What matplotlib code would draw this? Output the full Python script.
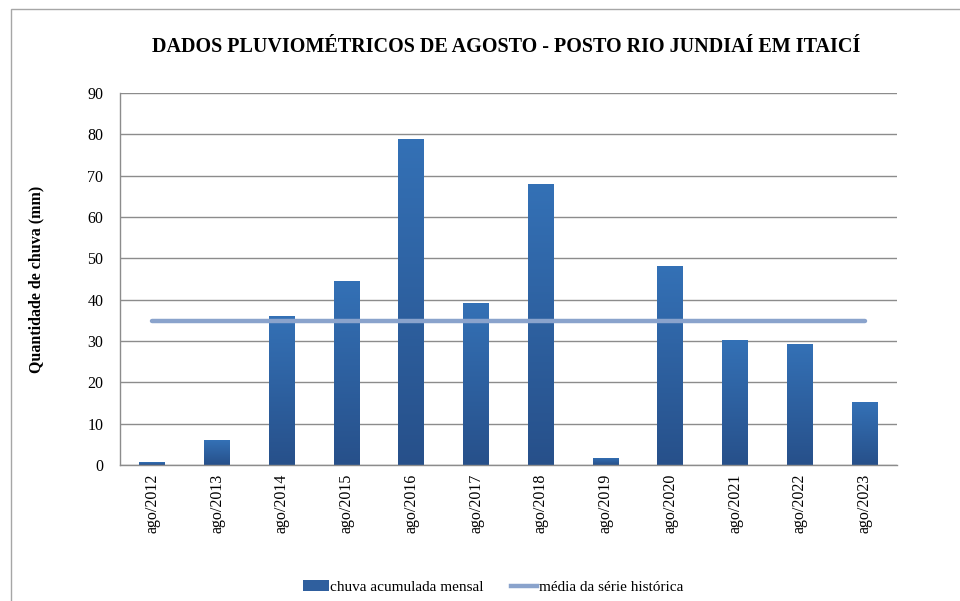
import matplotlib
matplotlib.use("Agg")
import matplotlib.pyplot as plt
import numpy as np
from matplotlib.colors import LinearSegmentedColormap
from matplotlib.lines import Line2D
from matplotlib.patches import Patch, Rectangle

# data
months = ["ago/2012", "ago/2013", "ago/2014", "ago/2015", "ago/2016", "ago/2017",
          "ago/2018", "ago/2019", "ago/2020", "ago/2021", "ago/2022", "ago/2023"]
rain_mm = [0.7, 6.0, 36.0, 44.5, 78.9, 39.2, 68.0, 1.7, 48.1, 30.2, 29.3, 15.2]
hist_mean = 34.8
y_ticks = list(range(0, 100, 10))

plt.rcParams["font.family"] = ["Liberation Serif", "DejaVu Serif"]

fig = plt.figure(figsize=(9.6, 6.01), dpi=100)
ax = fig.add_axes([120 / 960, 1 - 465 / 601, (897 - 120) / 960, (465 - 93) / 601])

# thin frame around the whole chart, cut by the image edges like the source
fig.patches.append(Rectangle((11 / 960, -0.05), 1.0, 1 - 9 / 601 + 0.05,
                             transform=fig.transFigure, fill=False,
                             edgecolor="#a6a6a6", linewidth=1.0))

x = np.arange(len(months))
bars = ax.bar(x, rain_mm, width=0.4, color="#2f5f9e", zorder=2)

# vertical gradient on each bar
cmap = LinearSegmentedColormap.from_list("bar", ["#27508a", "#3471b6"])
grad = np.linspace(0, 1, 256).reshape(-1, 1)
for b in bars:
    x0, w, h = b.get_x(), b.get_width(), b.get_height()
    im = ax.imshow(grad, extent=[x0, x0 + w, 0, h], origin="lower",
                   aspect="auto", cmap=cmap, zorder=2.1)
    im.set_clip_path(b)

ax.plot(x, [hist_mean] * len(x), color="#8aa3cc", linewidth=3.2,
        solid_capstyle="round", zorder=3)

ax.set_xlim(-0.5, len(months) - 0.5)
ax.set_ylim(0, 90)
ax.set_yticks(y_ticks)
ax.set_xticks(x)
ax.set_xticklabels(months, rotation=90, fontsize=11.5)
ax.tick_params(axis="y", labelsize=11.5, length=0, pad=12)
ax.tick_params(axis="x", length=0, pad=6)
ax.grid(axis="y", color="#8c8c8c", linewidth=1.0, zorder=0)
ax.set_axisbelow(True)
for s in ["top", "right"]:
    ax.spines[s].set_visible(False)
for s in ["left", "bottom"]:
    ax.spines[s].set_color("#8c8c8c")
    ax.spines[s].set_linewidth(1.0)

ax.set_ylabel("Quantidade de chuva (mm)", fontsize=11.5, fontweight="bold", labelpad=31)
fig.text(506 / 960, 1 - 47 / 601, "DADOS PLUVIOMÉTRICOS DE AGOSTO - POSTO RIO JUNDIAÍ EM ITAICÍ",
         ha="center", va="center", fontsize=14.5, fontweight="bold")

handles = [Patch(facecolor="#2f5f9e", label="chuva acumulada mensal"),
           Line2D([0], [0], color="#8aa3cc", linewidth=3.2, label="média da série histórica")]
fig.legend(handles=handles, loc="center", bbox_to_anchor=(493 / 960, 1 - 587 / 601),
           ncol=2, frameon=False, fontsize=11, handlelength=1.7, handletextpad=0.1,
           columnspacing=1.8)

fig.savefig("out.png", dpi=100)
